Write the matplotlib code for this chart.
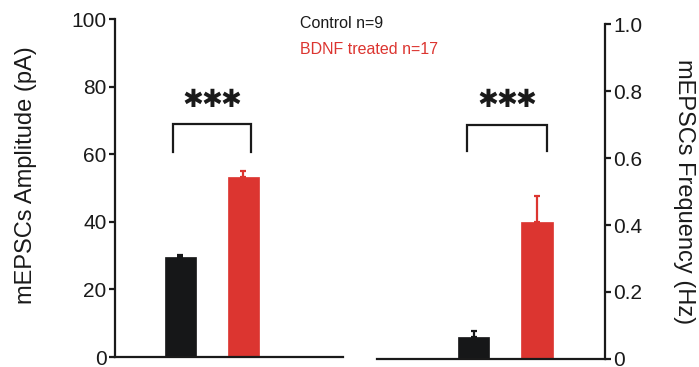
import matplotlib
matplotlib.use("Agg")
import matplotlib.pyplot as plt

plt.rcParams['font.family'] = ['Liberation Sans', 'DejaVu Sans']

groups = ["Control n=9", "BDNF treated n=17"]
colors = ["#161718", "#dc3530"]

amp_mean = [29.6, 53.2]
amp_sem = [0.7, 1.8]
freq_mean = [0.066, 0.41]
freq_sem = [0.019, 0.077]

amp_ticks = [0, 20, 40, 60, 80, 100]
freq_ticks = [0, 0.2, 0.4, 0.6, 0.8, 1.0]
freq_ticklabels = ["0", "0.2", "0.4", "0.6", "0.8", "1.0"]

fig = plt.figure(figsize=(6.99, 3.67), dpi=100)
ax1 = fig.add_axes([0.1645, 0.0272, 0.3262, 0.9210])
ax2 = fig.add_axes([0.5393, 0.0218, 0.3262, 0.9128])

xpos = [0, 1]
width = 0.49
lw_spine = 1.6
dark = "#1a1a1a"


def draw_bars(ax, means, sems):
    for x, m, s, c in zip(xpos, means, sems, colors):
        ax.bar(x, m, width=width, color=c, edgecolor=c, linewidth=0.5, zorder=2)
        ax.errorbar(x, m, yerr=[[0], [s]], fmt="none", ecolor=c,
                    elinewidth=1.6, capsize=2.5, capthick=1.6, zorder=3)


def bracket(ax, x0, x1, y_low, y_top, star_y):
    ax.plot([x0, x0, x1, x1], [y_low, y_top, y_top, y_low], color=dark,
            lw=1.6, solid_joinstyle="miter", clip_on=False)
    xc = (x0 + x1) / 2
    for k in (-1, 0, 1):
        ax.annotate("\u2731", xy=(xc, star_y), xytext=(k * 13.7, 0),
                    textcoords="offset points", ha="center", va="center",
                    fontsize=18, color=dark, family="DejaVu Sans",
                    annotation_clip=False)


def style_ticks(ax):
    ax.tick_params(axis="y", direction="out", length=4, width=lw_spine,
                   labelsize=15, colors=dark, pad=2)


# Amplitude panel
draw_bars(ax1, amp_mean, amp_sem)
ax1.set_xlim(-1.04, 2.58)
ax1.set_ylim(0, 100)
ax1.set_yticks(amp_ticks)
ax1.set_xticks([])
for side in ["top", "right"]:
    ax1.spines[side].set_visible(False)
for side in ["left", "bottom"]:
    ax1.spines[side].set_linewidth(lw_spine)
    ax1.spines[side].set_color(dark)
style_ticks(ax1)
ax1.set_ylabel("mEPSCs Amplitude (pA)", fontsize=17, color=dark, va="center")
ax1.yaxis.set_label_coords(-0.390, 0.538)
bracket(ax1, -0.12, 1.12, 60.6, 69.0, 76.0)

# Frequency panel
draw_bars(ax2, freq_mean, freq_sem)
ax2.set_xlim(-1.52, 2.07)
ax2.set_ylim(0, 1.0)
ax2.set_yticks(freq_ticks)
ax2.set_yticklabels(freq_ticklabels)
ax2.set_xticks([])
ax2.yaxis.tick_right()
ax2.yaxis.set_label_position("right")
for side in ["top", "left"]:
    ax2.spines[side].set_visible(False)
for side in ["right", "bottom"]:
    ax2.spines[side].set_linewidth(lw_spine)
    ax2.spines[side].set_color(dark)
style_ticks(ax2)
ax2.set_ylabel("mEPSCs Frequency (Hz)", fontsize=17, color=dark,
               rotation=-90)
ax2.yaxis.label.set_verticalalignment("center")
ax2.yaxis.set_label_coords(1.346, 0.4985)
bracket(ax2, -0.1, 1.15, 0.62, 0.70, 0.773)

# Group labels
fig.text(0.4292, 0.9237, groups[0], color=dark, fontsize=11.5, va="baseline")
fig.text(0.4292, 0.8529, groups[1], color=colors[1], fontsize=11.5,
         va="baseline")

fig.savefig("out.png", dpi=100)
